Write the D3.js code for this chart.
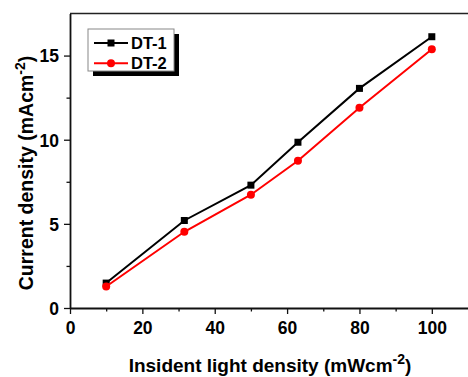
<!DOCTYPE html>
<html><head><meta charset="utf-8">
<script src="https://cdn.jsdelivr.net/npm/d3@7"></script>
<style>
html,body{margin:0;padding:0;background:#fff;}
svg{display:block;font-family:"Liberation Sans",Arial,sans-serif;font-weight:bold;}
</style></head>
<body>
<svg id="c" width="468" height="377"></svg>
<script>
const xValues = [10, 31.6, 50, 63, 80, 100];
const dt1 = [1.48, 5.2, 7.3, 9.85, 13.05, 16.12];
const dt2 = [1.28, 4.53, 6.73, 8.75, 11.9, 15.38];
const seriesNames = ["DT-1", "DT-2"];
const xTicks = [0, 20, 40, 60, 80, 100];
const yTicks = [0, 5, 10, 15];

const svg = d3.select("#c");
const L = 70, R = 468, T = 13.5, B = 308;
const x = d3.scaleLinear().domain([0, 110]).range([L, R]);
const y = d3.scaleLinear().domain([0, 17.5]).range([B, T]);
const FONT = '"Liberation Sans",Arial,sans-serif';

// frame
svg.append("line").attr("x1", L).attr("x2", R).attr("y1", T).attr("y2", T)
  .attr("stroke", "#222").attr("stroke-width", 1.6);

// minor ticks
const gxm = svg.append("g").attr("transform", `translate(0,${B})`)
  .call(d3.axisBottom(x).tickValues([10,30,50,70,90]).tickSize(3.5).tickFormat(""));
const gym = svg.append("g").attr("transform", `translate(${L},0)`)
  .call(d3.axisLeft(y).tickValues([2.5,7.5,12.5]).tickSize(3.5).tickFormat(""));
[gxm, gym].forEach(g => { g.select(".domain").remove(); g.selectAll("line").attr("stroke","#111").attr("stroke-width",1.3); });

const gx = svg.append("g").attr("transform", `translate(0,${B})`)
  .call(d3.axisBottom(x).tickValues(xTicks).tickSize(6).tickSizeOuter(0).tickPadding(8));
const gy = svg.append("g").attr("transform", `translate(${L},0)`)
  .call(d3.axisLeft(y).tickValues(yTicks).tickSize(6).tickSizeOuter(0).tickPadding(5));
[gx, gy].forEach(g => {
  g.select(".domain").attr("stroke", "#111").attr("stroke-width", 1.8);
  g.selectAll(".tick line").attr("stroke", "#111").attr("stroke-width", 1.3);
  g.selectAll("text").attr("font-size", 17.5).attr("font-weight", "bold").attr("fill", "#000")
   .attr("font-family", FONT);
});
gy.selectAll("text").attr("dy", "0.36em");

// series
const series = [
  {name: seriesNames[0], vals: dt1, color: "#000", shape: "square"},
  {name: seriesNames[1], vals: dt2, color: "#ff0000", shape: "circle"}
];
const line = d3.line().x(d => x(d[0])).y(d => y(d[1]));
series.forEach(s => {
  const pts = xValues.map((v, i) => [v, s.vals[i]]);
  svg.append("path").datum(pts).attr("d", line).attr("fill", "none")
    .attr("stroke", s.color).attr("stroke-width", 2);
  if (s.shape === "square") {
    svg.selectAll(null).data(pts).enter().append("rect")
      .attr("x", d => x(d[0]) - 3.5).attr("y", d => y(d[1]) - 3.5)
      .attr("width", 7).attr("height", 7).attr("fill", s.color);
  } else {
    svg.selectAll(null).data(pts).enter().append("circle")
      .attr("cx", d => x(d[0])).attr("cy", d => y(d[1])).attr("r", 4)
      .attr("fill", s.color);
  }
});

// legend
const lg = svg.append("g");
lg.append("rect").attr("x", 93).attr("y", 34).attr("width", 86).attr("height", 42).attr("fill", "#000");
lg.append("rect").attr("x", 88).attr("y", 29).attr("width", 86).attr("height", 42)
  .attr("fill", "#fff").attr("stroke", "#888").attr("stroke-width", 1);
series.forEach((s, i) => {
  const yy = 43 + i * 20.3;
  lg.append("line").attr("x1", 94).attr("x2", 128).attr("y1", yy).attr("y2", yy)
    .attr("stroke", s.color).attr("stroke-width", 2);
  if (s.shape === "square") lg.append("rect").attr("x", 111 - 3.5).attr("y", yy - 3.5).attr("width", 7).attr("height", 7).attr("fill", s.color);
  else lg.append("circle").attr("cx", 111).attr("cy", yy).attr("r", 4).attr("fill", s.color);
  lg.append("text").attr("x", 131).attr("y", yy).attr("dy", "0.36em")
    .attr("font-size", 16.5).attr("fill", "#000").text(s.name);
});

// axis titles
const xt = svg.append("text").attr("x", 270).attr("y", 372).attr("text-anchor", "middle")
  .attr("font-size", 19).attr("fill", "#000");
xt.append("tspan").text("Insident light density (mWcm");
xt.append("tspan").attr("dy", -8).attr("font-size", 14).text("-2");
xt.append("tspan").attr("dy", 8).text(")");

const yt = svg.append("text").attr("transform", "translate(33,173) rotate(-90)")
  .attr("text-anchor", "middle").attr("font-size", 19.5).attr("fill", "#000");
yt.append("tspan").text("Current density (mAcm");
yt.append("tspan").attr("dy", -8).attr("font-size", 14).text("-2");
yt.append("tspan").attr("dy", 8).text(")");
</script>
</body></html>
